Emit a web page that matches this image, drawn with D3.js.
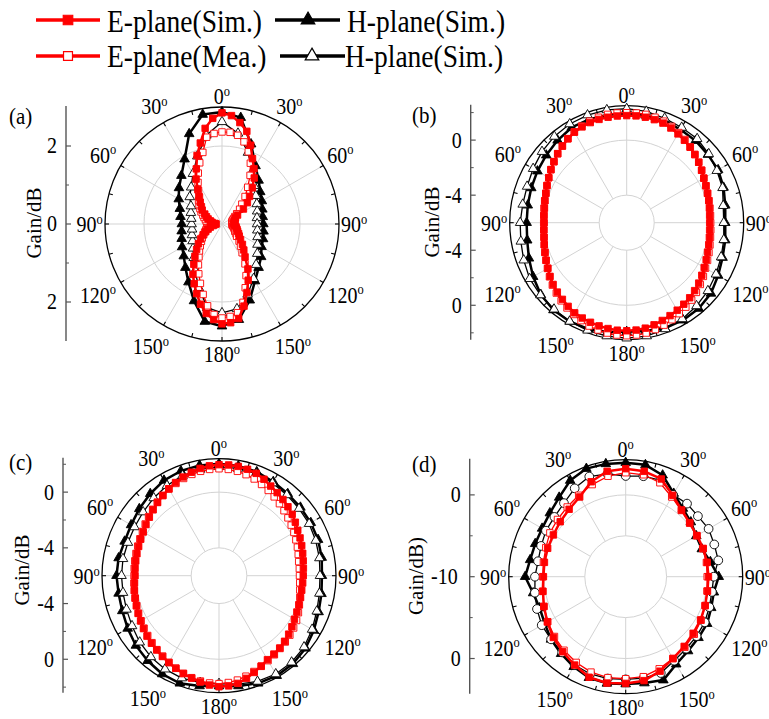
<!DOCTYPE html>
<html>
<head>
<meta charset="utf-8">
<script src="https://cdn.jsdelivr.net/npm/d3@7"></script>
<style>
  body { margin: 0; background: #fff; }
  svg text { font-family: "Liberation Serif", "Times New Roman", serif; fill: #000; }
</style>
</head>
<body>
<svg id="chart" width="769" height="719"></svg>
<script>
// ---------------- data ----------------
// angular tick labels, clockwise from the top
const angleTickLabels = ["0", "30", "60", "90", "120", "150", "180", "150", "120", "90", "60", "30"];

// legend entries
const legendLabels = ["E-plane(Sim.)", "H-plane(Sim.)", "E-plane(Mea.)", "H-plane(Sim.)"];

// (a) gain, E-plane every 5 deg, H-plane every 10 deg, starting at 0 deg, clockwise
const aEsim = [2.85, 2.79, 2.64, 2.46, 2.15, 1.85, 1.64, 1.44, 1.21, 1.00, 0.85, 0.67, 0.46, 0.38, 0.36, 0.33, 0.32, 0.31,
  0.31, 0.33, 0.36, 0.38, 0.41, 0.44, 0.49, 0.54, 0.62, 0.74, 0.87, 1.03, 1.33, 1.59, 1.87, 2.18, 2.46, 2.54,
  2.56, 2.46, 2.33, 2.13, 1.90, 1.69, 1.49, 1.26, 1.08, 0.92, 0.79, 0.67, 0.56, 0.46, 0.38, 0.31, 0.23, 0.18,
  0.15, 0.18, 0.26, 0.31, 0.38, 0.44, 0.51, 0.62, 0.69, 0.79, 0.92, 1.08, 1.33, 1.56, 1.87, 2.15, 2.49, 2.72];
const aEmea = [2.36, 2.36, 2.31, 2.18, 1.97, 1.72, 1.44, 1.15, 0.92, 0.72, 0.59, 0.46, 0.38, 0.33, 0.29, 0.27, 0.26, 0.26,
  0.26, 0.26, 0.28, 0.31, 0.33, 0.36, 0.38, 0.44, 0.49, 0.62, 0.74, 0.90, 1.18, 1.46, 1.74, 2.08, 2.31, 2.38,
  2.41, 2.33, 2.13, 1.87, 1.62, 1.41, 1.21, 1.03, 0.90, 0.79, 0.69, 0.62, 0.54, 0.49, 0.44, 0.40, 0.37, 0.36,
  0.36, 0.38, 0.41, 0.44, 0.49, 0.54, 0.62, 0.69, 0.77, 0.85, 0.90, 1.05, 1.23, 1.44, 1.67, 1.90, 2.26, 2.33];
const aHsim = [2.87, 2.77, 2.18, 1.72, 1.46, 1.28, 1.18, 1.10, 1.06, 1.06, 1.08, 1.12, 1.17, 1.31, 1.46, 1.69, 2.08, 2.49,
  2.62, 2.54, 2.10, 1.72, 1.46, 1.28, 1.18, 1.10, 1.05, 1.03, 1.08, 1.15, 1.28, 1.44, 1.62, 1.92, 2.46, 2.85];
const aHmea = [2.62, 2.36, 1.95, 1.56, 1.28, 1.13, 1.03, 0.96, 0.91, 0.90, 0.92, 0.97, 1.05, 1.18, 1.36, 1.62, 1.92, 2.21,
  2.28, 2.18, 1.74, 1.38, 1.13, 0.97, 0.87, 0.82, 0.78, 0.78, 0.80, 0.85, 0.92, 1.08, 1.23, 1.49, 1.85, 2.31];

// (b) gain, E-plane every 5 deg, H-plane every 10 deg
const bEsim = [1.78, 1.79, 1.78, 1.75, 1.70, 1.59, 1.45, 1.31, 1.16, 1.00, 0.83, 0.65, 0.47, 0.35, 0.25, 0.17, 0.10, 0.05,
  0.03, 0.05, 0.10, 0.17, 0.25, 0.37, 0.50, 0.66, 0.83, 0.98, 1.12, 1.23, 1.34, 1.45, 1.56, 1.68, 1.78, 1.83,
  1.85, 1.84, 1.81, 1.76, 1.70, 1.64, 1.56, 1.42, 1.27, 1.13, 0.98, 0.80, 0.61, 0.46, 0.32, 0.20, 0.10, 0.04,
  0.00, 0.03, 0.07, 0.15, 0.25, 0.39, 0.54, 0.72, 0.90, 1.09, 1.27, 1.44, 1.59, 1.68, 1.74, 1.77, 1.78, 1.78];
const bEmea = [1.99, 2.00, 1.99, 1.93, 1.85, 1.72, 1.56, 1.38, 1.19, 1.01, 0.83, 0.64, 0.47, 0.35, 0.25, 0.19, 0.14, 0.11,
  0.10, 0.13, 0.18, 0.26, 0.36, 0.48, 0.61, 0.80, 0.98, 1.16, 1.34, 1.49, 1.63, 1.78, 1.92, 2.04, 2.14, 2.19,
  2.21, 2.19, 2.14, 2.07, 1.99, 1.85, 1.70, 1.56, 1.41, 1.23, 1.05, 0.85, 0.65, 0.47, 0.32, 0.20, 0.10, 0.05,
  0.03, 0.05, 0.10, 0.17, 0.25, 0.39, 0.54, 0.72, 0.90, 1.09, 1.27, 1.46, 1.63, 1.75, 1.85, 1.93, 1.99, 2.00];
const bHsim = [1.92, 1.92, 1.92, 1.81, 1.78, 1.70, 1.67, 1.49, 1.27, 1.16, 1.27, 1.41, 1.67, 1.99, 2.14, 2.18, 2.14, 1.99,
  1.92, 2.07, 2.21, 2.28, 2.28, 2.14, 1.85, 1.56, 1.34, 1.27, 1.30, 1.38, 1.49, 1.63, 1.81, 1.99, 1.99, 1.96];
const bHmea = [2.28, 2.21, 2.07, 1.99, 1.96, 1.78, 1.56, 1.41, 1.12, 1.05, 1.16, 1.30, 1.49, 1.70, 1.89, 2.07, 2.21, 2.36,
  2.39, 2.36, 2.32, 2.28, 2.21, 2.18, 2.14, 1.96, 1.81, 1.74, 1.67, 1.70, 1.85, 2.03, 2.18, 2.28, 2.32, 2.32];

// (c) gain, E-plane every 5 deg, H-plane every 10 deg
const cEsim = [1.97, 1.98, 1.97, 1.91, 1.82, 1.64, 1.43, 1.28, 1.14, 1.00, 0.86, 0.69, 0.53, 0.42, 0.32, 0.22, 0.14, 0.08,
  0.05, 0.03, 0.03, 0.06, 0.10, 0.17, 0.25, 0.39, 0.53, 0.66, 0.78, 0.87, 0.96, 1.16, 1.39, 1.63, 1.85, 1.94,
  1.97, 1.88, 1.75, 1.61, 1.47, 1.34, 1.21, 1.08, 0.96, 0.86, 0.75, 0.62, 0.50, 0.41, 0.32, 0.24, 0.17, 0.09,
  0.03, 0.05, 0.07, 0.10, 0.14, 0.20, 0.28, 0.40, 0.53, 0.69, 0.86, 1.03, 1.21, 1.38, 1.54, 1.69, 1.82, 1.92];
const cEmea = [1.68, 1.66, 1.61, 1.51, 1.39, 1.23, 1.07, 0.91, 0.75, 0.60, 0.46, 0.33, 0.21, 0.09, -0.01, -0.11, -0.19, -0.21,
  -0.22, -0.18, -0.11, 0.01, 0.14, 0.29, 0.43, 0.54, 0.64, 0.73, 0.82, 0.93, 1.04, 1.18, 1.32, 1.47, 1.61, 1.70,
  1.75, 1.73, 1.68, 1.58, 1.47, 1.32, 1.18, 1.05, 0.93, 0.80, 0.68, 0.57, 0.46, 0.37, 0.28, 0.22, 0.17, 0.13,
  0.10, 0.11, 0.14, 0.17, 0.21, 0.27, 0.35, 0.47, 0.60, 0.74, 0.89, 1.03, 1.18, 1.31, 1.43, 1.53, 1.61, 1.66];
const cHsim = [2.04, 2.00, 1.93, 1.79, 1.68, 1.63, 1.61, 1.57, 1.49, 1.39, 1.47, 1.61, 1.86, 2.11, 2.26, 2.29, 2.22, 2.04,
  1.92, 2.04, 2.22, 2.15, 1.97, 1.79, 1.57, 1.39, 1.32, 1.36, 1.32, 1.21, 1.29, 1.47, 1.68, 1.90, 2.00, 2.04];
const cHmea = [1.82, 1.82, 1.79, 1.68, 1.57, 1.50, 1.47, 1.39, 1.32, 1.25, 1.32, 1.47, 1.72, 1.97, 2.11, 2.15, 2.08, 1.90,
  1.75, 1.79, 1.82, 1.75, 1.61, 1.43, 1.21, 1.07, 1.00, 1.00, 1.00, 0.96, 1.00, 1.11, 1.29, 1.47, 1.65, 1.75];

// (d) gain every 10 deg
const dEsim = [3.20, 3.08, 2.71, 1.49, 0.64, 0.21, 0.06, 0.09, 0.11, 0.11, 0.15, 0.33, 0.57, 0.76, 1.12, 1.55, 2.29, 2.90,
  3.04, 3.20, 3.08, 2.47, 1.98, 1.55, 1.06, 0.64, 0.27, 0.06, 0.09, 0.15, 0.21, 0.45, 0.76, 1.25, 2.35, 3.08];
const dEmea = [2.71, 2.65, 2.22, 1.25, 0.57, 0.21, 0.02, 0.02, 0.02, -0.04, 0.09, 0.33, 0.64, 0.94, 1.25, 1.55, 1.98, 2.41,
  2.47, 2.53, 2.41, 2.10, 1.74, 1.37, 1.00, 0.64, 0.33, 0.15, 0.21, 0.39, 0.70, 0.88, 1.12, 1.49, 1.98, 2.47];
const dHsim = [3.94, 3.88, 3.20, 1.74, 0.88, 0.39, -0.04, -0.10, 0.51, 1.37, 0.94, 1.12, 1.49, 1.61, 1.86, 2.35, 3.45, 3.20,
  3.12, 3.24, 3.14, 2.71, 2.29, 1.92, 1.43, 1.19, 1.49, 2.29, 1.86, 1.77, 1.80, 2.10, 2.65, 3.57, 4.06, 4.00];
const dHmea = [2.31, 2.47, 2.54, 1.56, 1.66, 1.52, 1.70, 1.52, 1.49, 0.76, 0.70, 0.88, 1.15, 1.31, 1.49, 1.86, 2.53, 2.59,
  2.55, 2.64, 2.65, 2.47, 2.08, 1.91, 1.85, 1.54, 1.27, 1.09, 0.88, 1.00, 1.25, 1.37, 1.74, 2.47, 3.02, 2.76];

// radial axis ticks (top to bottom): values, side (-1 above centre, 0 centre, 1 below) and labels
const aAxisValues = [2, 0, 2], aAxisSides = [-1, 0, 1], aAxisLabels = ["2", "0", "2"];
const bAxisValues = [0, -4, -4, 0], bAxisSides = [-1, -1, 1, 1], bAxisLabels = ["0", "-4", "-4", "0"];
const cAxisValues = [0, -4, -4, 0], cAxisSides = [-1, -1, 1, 1], cAxisLabels = ["0", "-4", "-4", "0"];
const dAxisValues = [0, -10, 0], dAxisSides = [-1, 0, 1], dAxisLabels = ["0", "-10", "0"];
const aMinorValues = [1, 1], aMinorSides = [-1, 1];
const bMinorValues = [2, -2, -2, 2], bMinorSides = [-1, -1, 1, 1];
const cMinorValues = [2, -2, -2, 2], cMinorSides = [-1, -1, 1, 1];
const dMinorValues = [-5, -5], dMinorSides = [-1, 1];

// ---------------- layout ----------------
const R = 117;
const RED = "#ff0000";
const svg = d3.select("#chart");

const panels = [
  { tag: "(a)", tagX: 9, tagY: 124, cx: 222, cy: 224, domain: [0, 3], grid: [2], spokeFrom: 0,
    yLabel: "Gain/dB", yLabelX: 41, yLabelY: 223, centreLabelShift: 0,
    eSim: aEsim, eMea: aEmea, hSim: aHsim, hMea: aHmea, eStep: 5, hStep: 10, hMeaShape: d3.symbolTriangle,
    ticks: [aAxisValues, aAxisSides, aAxisLabels], minor: [aMinorValues, aMinorSides] },
  { tag: "(b)", tagX: 412, tagY: 123, cx: 626.7, cy: 222.7, domain: [-6, 2.5], grid: [-4, 0], spokeFrom: -4,
    yLabel: "Gain/dB", yLabelX: 438.5, yLabelY: 222, centreLabelShift: 0,
    eSim: bEsim, eMea: bEmea, hSim: bHsim, hMea: bHmea, eStep: 5, hStep: 10, hMeaShape: d3.symbolTriangle,
    ticks: [bAxisValues, bAxisSides, bAxisLabels], minor: [bMinorValues, bMinorSides] },
  { tag: "(c)", tagX: 9, tagY: 470, cx: 219, cy: 575.7, domain: [-6, 2.4], grid: [-4, 0], spokeFrom: -4,
    yLabel: "Gain/dB", yLabelX: 28.5, yLabelY: 570, centreLabelShift: 0,
    eSim: cEsim, eMea: cEmea, hSim: cHsim, hMea: cHmea, eStep: 5, hStep: 10, hMeaShape: d3.symbolTriangle,
    ticks: [cAxisValues, cAxisSides, cAxisLabels], minor: [cMinorValues, cMinorSides] },
  { tag: "(d)", tagX: 412, tagY: 472, cx: 625.7, cy: 576.7, domain: [-10, 4.3], grid: [-5, 0], spokeFrom: -5,
    yLabel: "Gain/dB)", yLabelX: 423, yLabelY: 576, centreLabelShift: -3,
    eSim: dEsim, eMea: dEmea, hSim: dHsim, hMea: dHmea, eStep: 10, hStep: 10, hMeaShape: d3.symbolCircle,
    ticks: [dAxisValues, dAxisSides, dAxisLabels], minor: [dMinorValues, dMinorSides] }
];

// text slightly taller than wide, like the serif face used in the figure
const STRETCH = 1.12;
function plainText(parent, x, y, str, size, anchor) {
  return parent.append("g")
    .attr("transform", `translate(${x},${y}) scale(1,${STRETCH})`)
    .append("text")
    .attr("font-size", size)
    .attr("text-anchor", anchor || "start")
    .text(str);
}

function degreeText(parent, x, y, num, mode) {
  const g = parent.append("g").attr("transform", `translate(${x},${y}) scale(1,${STRETCH})`);
  const t = g.append("text").attr("font-size", 20);
  t.append("tspan").text(num);
  t.append("tspan").attr("font-size", 12.5).attr("dy", -7.5).text("o");
  const bb = t.node().getBBox();
  let dx;
  if (mode === "start") dx = -bb.x;
  else if (mode === "end") dx = -(bb.x + bb.width);
  else dx = -(bb.x + bb.width / 2);
  t.attr("x", dx).attr("y", 6.6);
}

const labelRadius = [127, 135, 137, null, 143, 142, 131, 142, 143, null, 137, 135];

panels.forEach(p => {
  const g = svg.append("g");
  const r = d3.scaleLinear().domain(p.domain).range([0, R]);
  const pt = (deg, v) => {
    const [x, y] = d3.pointRadial(deg * Math.PI / 180, r(v));
    return [p.cx + x, p.cy + y];
  };

  // grid circles
  g.selectAll(null).data(p.grid).join("circle")
    .attr("cx", p.cx).attr("cy", p.cy).attr("r", d => r(d))
    .attr("fill", "none").attr("stroke", "#d3d3d3").attr("stroke-width", 1);

  // spokes every 30 deg
  g.selectAll(null).data(d3.range(0, 360, 30)).join("line")
    .attr("x1", d => pt(d, p.spokeFrom)[0]).attr("y1", d => pt(d, p.spokeFrom)[1])
    .attr("x2", d => pt(d, p.domain[1])[0]).attr("y2", d => pt(d, p.domain[1])[1])
    .attr("stroke", "#d3d3d3").attr("stroke-width", 1);

  // outer circle and angular ticks
  g.append("circle").attr("cx", p.cx).attr("cy", p.cy).attr("r", R)
    .attr("fill", "none").attr("stroke", "#000").attr("stroke-width", 1.3);
  g.selectAll(null).data(d3.range(0, 360, 15)).join("line")
    .attr("x1", d => p.cx + R * Math.sin(d * Math.PI / 180))
    .attr("y1", d => p.cy - R * Math.cos(d * Math.PI / 180))
    .attr("x2", d => p.cx + (R - 4) * Math.sin(d * Math.PI / 180))
    .attr("y2", d => p.cy - (R - 4) * Math.cos(d * Math.PI / 180))
    .attr("stroke", "#000").attr("stroke-width", 1.1);

  // angular labels
  angleTickLabels.forEach((lab, i) => {
    const a = i * 30;
    if (a === 90) degreeText(g, p.cx + R + 2, p.cy + 1, lab, "start");
    else if (a === 270) degreeText(g, p.cx - R - 2, p.cy + 1, lab, "end");
    else {
      const rr = labelRadius[i];
      degreeText(g, p.cx + rr * Math.sin(a * Math.PI / 180), p.cy - rr * Math.cos(a * Math.PI / 180), lab, "middle");
    }
  });

  // radial axis drawn as a vertical line left of the circle
  const ax = p.cx - 156;
  g.append("line").attr("x1", ax).attr("x2", ax).attr("y1", p.cy - R - 1).attr("y2", p.cy + R)
    .attr("stroke", "#555").attr("stroke-width", 1.4);
  const [tv, ts, tl] = p.ticks;
  tv.forEach((v, i) => {
    const y = p.cy + ts[i] * r(v);
    g.append("line").attr("x1", ax).attr("x2", ax + 5).attr("y1", y).attr("y2", y)
      .attr("stroke", "#555").attr("stroke-width", 1.2);
    const shift = ts[i] === 0 ? p.centreLabelShift : 0;
    plainText(g, ax - 9 + shift, y + 6.6 * STRETCH, tl[i], 20, "end");
  });
  const [mv, ms] = p.minor;
  mv.forEach((v, i) => {
    const y = p.cy + ms[i] * r(v);
    g.append("line").attr("x1", ax).attr("x2", ax + 3).attr("y1", y).attr("y2", y)
      .attr("stroke", "#555").attr("stroke-width", 1);
  });

  // axis title
  g.append("text")
    .attr("transform", `translate(${p.yLabelX},${p.yLabelY}) rotate(-90)`)
    .attr("text-anchor", "middle").attr("font-size", 21).text(p.yLabel);

  // panel tag
  plainText(g, p.tagX, p.tagY, p.tag, 21, "start");

  // series: measured E-plane is drawn beneath the simulated one
  const toPts = (arr, step) => arr.map((v, i) => ({ a: i * step, v }));
  const line = d3.lineRadial().angle(d => d.a * Math.PI / 180).radius(d => r(d.v)).curve(d3.curveLinearClosed);
  const series = [
    { pts: toPts(p.hSim, p.hStep), stroke: "#000", width: 2.5, shape: d3.symbolTriangle, size: 40, fill: "#000", mstroke: "#000" },
    { pts: toPts(p.hMea, p.hStep), stroke: "#000", width: 1.3, shape: p.hMeaShape, size: p.hMeaShape === d3.symbolCircle ? 60 : 40, fill: "#fff", mstroke: "#000" },
    { pts: toPts(p.eMea, p.eStep), stroke: RED, width: 1.3, shape: d3.symbolSquare, size: 42, fill: "#fff", mstroke: RED },
    { pts: toPts(p.eSim, p.eStep), stroke: RED, width: 2.5, shape: d3.symbolSquare, size: 42, fill: RED, mstroke: RED }
  ];
  series.forEach(s => {
    const sg = g.append("g").attr("transform", `translate(${p.cx},${p.cy})`);
    sg.append("path").attr("d", line(s.pts)).attr("fill", "none")
      .attr("stroke", s.stroke).attr("stroke-width", s.width).attr("stroke-linejoin", "round");
    sg.selectAll(null).data(s.pts).join("path")
      .attr("transform", d => {
        const [x, y] = d3.pointRadial(d.a * Math.PI / 180, r(d.v));
        return `translate(${x},${y})`;
      })
      .attr("d", d3.symbol().type(s.shape).size(s.size))
      .attr("fill", s.fill).attr("stroke", s.mstroke).attr("stroke-width", 0.9);
  });
});

// ---------------- legend ----------------
const legend = svg.append("g");
const legendItems = [
  { x1: 36, x2: 100, y: 20, mx: 68, color: RED, shape: d3.symbolSquare, size: 90, fill: RED, tx: 107, ty: 32 },
  { x1: 275, x2: 340, y: 20, mx: 308, color: "#000", shape: d3.symbolTriangle, size: 80, fill: "#000", tx: 347, ty: 32 },
  { x1: 36, x2: 100, y: 56, mx: 68, color: RED, shape: d3.symbolSquare, size: 80, fill: "#fff", tx: 107, ty: 67 },
  { x1: 280, x2: 345, y: 56, mx: 312, color: "#000", shape: d3.symbolTriangle, size: 80, fill: "#fff", tx: 345, ty: 67 }
];
legendItems.forEach((it, i) => {
  legend.append("line").attr("x1", it.x1).attr("x2", it.x2).attr("y1", it.y).attr("y2", it.y)
    .attr("stroke", it.color).attr("stroke-width", 3.5);
  legend.append("path").attr("transform", `translate(${it.mx},${it.y})`)
    .attr("d", d3.symbol().type(it.shape).size(it.size))
    .attr("fill", it.fill).attr("stroke", it.color).attr("stroke-width", 1.2);
  plainText(legend, it.tx, it.ty, legendLabels[i], 27.5, "start");
});
</script>
</body>
</html>
